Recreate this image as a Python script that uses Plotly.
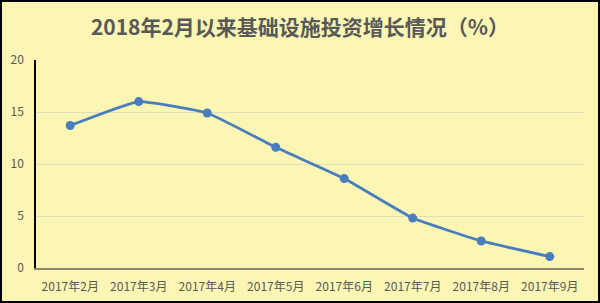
import plotly.graph_objects as go

categories = ["2017年2月", "2017年3月", "2017年4月", "2017年5月",
              "2017年6月", "2017年7月", "2017年8月", "2017年9月"]
values = [13.7, 16.0, 14.9, 11.6, 8.6, 4.8, 2.6, 1.1]
title_text = "2018年2月以来基础设施投资增长情况（%）"

W, H = 600, 303
ml, mr, mt, mb = 36, 16, 60, 35
pw = W - ml - mr
ph = H - mt - mb

fig = go.Figure()
fig.add_trace(go.Scatter(
    x=categories, y=values, mode="lines+markers",
    line=dict(color="#4a7cc0", width=2.8, shape="spline", smoothing=0.35),
    marker=dict(size=9, color="#4a7cc0"),
    hoverinfo="skip", showlegend=False,
))

fig.update_layout(
    width=W, height=H,
    margin=dict(l=ml, r=mr, t=mt, b=mb, autoexpand=False),
    paper_bgcolor="#fbf6b4",
    plot_bgcolor="#fbf6b4",
    font=dict(family="Noto Sans CJK SC, sans-serif", size=12, color="#595959"),
    title=dict(text="<b>" + title_text + "</b>", x=0.5, xanchor="center",
               y=1 - 28 / H, yanchor="middle",
               font=dict(size=21, color="#595959")),
    xaxis=dict(showgrid=False, showline=True, linecolor="#8c8a6e", linewidth=1.5,
               ticks="", tickfont=dict(size=12, color="#595959"),
               ticklabelstandoff=7, automargin=False,
               range=[-0.5, len(categories) - 0.5], fixedrange=True),
    yaxis=dict(range=[0, 20], dtick=5, showgrid=True, gridcolor="#e2ddc0",
               gridwidth=1, showline=True, linecolor="#000000", linewidth=1.5,
               zeroline=False, ticks="", tickfont=dict(size=12, color="#595959"),
               ticklabelstandoff=8, automargin=False, fixedrange=True),
    shapes=[dict(type="rect", xref="paper", yref="paper",
                 x0=(1 - ml) / pw, x1=(W - 1 - ml) / pw,
                 y0=-(mb - 1) / ph, y1=1 + (mt - 1) / ph,
                 line=dict(color="#000000", width=2), layer="above")],
)

fig.write_html("out.html")
